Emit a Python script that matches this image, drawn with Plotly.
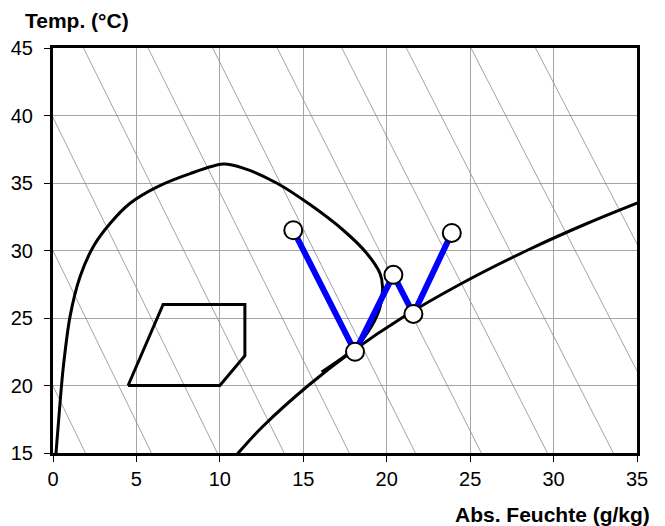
import plotly.graph_objects as go

# ---- data ----
# saturation curve (x in g/kg, t in °C)
sat_x = [10.4, 11.1, 12.6, 15.3, 17.9, 20.9, 24.4, 28.4, 32.0, 36.0]
sat_t = [14.0, 15.0, 17.0, 20.0, 22.5, 25.0, 27.5, 30.0, 32.0, 34.0]

# large envelope curve
env_x = [0.18, 0.42, 0.62, 1.02, 1.62, 2.42, 3.42, 4.62, 6.22, 8.22, 10.2, 11.4,
         13.4, 15.4, 17.4, 18.8, 19.6, 19.75, 19.6, 19.1, 18.2, 17.4, 16.1]
env_t = [15.0, 18.7, 21.4, 25.1, 28.05, 30.3, 32.0, 33.5, 34.7, 35.7, 36.4, 36.1,
         35.0, 33.4, 31.5, 29.8, 28.3, 27.3, 25.8, 24.4, 22.9, 22.1, 21.0]

# comfort polygon
box_x = [4.5, 6.6, 11.5, 11.5, 10.0, 4.5]
box_t = [20.0, 26.0, 26.0, 22.2, 20.0, 20.0]

# process path (blue)
path_x = [14.4, 18.1, 20.4, 21.6, 23.9]
path_t = [31.5, 22.5, 28.2, 25.3, 31.3]

# isenthalps: x where each line crosses t=15 and t=45
isen_x15 = [1.94, 5.90, 9.85, 13.85, 17.76, 21.72, 25.67, 29.63, 33.58, 37.53, 41.49]
isen_x45 = [-9.78, -5.91, -2.04, 1.83, 5.70, 9.57, 13.44, 17.31, 21.18, 25.05, 28.92]
isen_t = [15, 45]

x_ticks = [0, 5, 10, 15, 20, 25, 30, 35]
y_ticks = [15, 20, 25, 30, 35, 40, 45]

FONT = "Liberation Sans, Arial, sans-serif"

fig = go.Figure()

for a, b in zip(isen_x15, isen_x45):
    fig.add_trace(go.Scatter(x=[a, b], y=isen_t, mode="lines",
                             line=dict(color="#8c8c8c", width=0.8),
                             hoverinfo="skip", showlegend=False))

fig.add_trace(go.Scatter(x=sat_x, y=sat_t, mode="lines", line_shape="spline",
                         line=dict(color="black", width=3), showlegend=False))
fig.add_trace(go.Scatter(x=env_x, y=env_t, mode="lines", line_shape="spline",
                         line=dict(color="black", width=3, smoothing=0.8), showlegend=False))
fig.add_trace(go.Scatter(x=box_x, y=box_t, mode="lines",
                         line=dict(color="black", width=3), showlegend=False))
fig.add_trace(go.Scatter(x=path_x, y=path_t, mode="lines",
                         line=dict(color="#0000ff", width=6), showlegend=False))
fig.add_trace(go.Scatter(x=path_x, y=path_t, mode="markers",
                         marker=dict(size=18, color="white",
                                     line=dict(color="black", width=2)),
                         showlegend=False))

axis_common = dict(showline=True, linecolor="black", linewidth=3, mirror=True,
                   showgrid=True, gridcolor="#a6a6a6", gridwidth=1,
                   zeroline=False, ticks="outside", ticklen=6, tickwidth=1,
                   tickcolor="black",
                   tickfont=dict(family=FONT, size=20, color="black"))

fig.update_xaxes(range=[0, 35], tickvals=x_ticks, **axis_common)
fig.update_yaxes(range=[15, 45], tickvals=y_ticks, ticklabelstandoff=7, **axis_common)

fig.add_annotation(text="<b>Temp. (°C)</b>", xref="paper", yref="paper",
                   x=0, xshift=-30, y=1, yshift=28, xanchor="left", yanchor="middle",
                   showarrow=False, font=dict(family=FONT, size=21, color="black"))
fig.add_annotation(text="<b>Abs. Feuchte (g/kg)</b>", xref="paper", yref="paper",
                   x=1, xshift=15, y=0, yshift=-61, xanchor="right", yanchor="middle",
                   showarrow=False, font=dict(family=FONT, size=21, color="black"))

fig.update_layout(width=665, height=526,
                  margin=dict(l=53, r=28, t=48, b=73),
                  paper_bgcolor="white", plot_bgcolor="white",
                  showlegend=False)

fig.write_html("out.html")
